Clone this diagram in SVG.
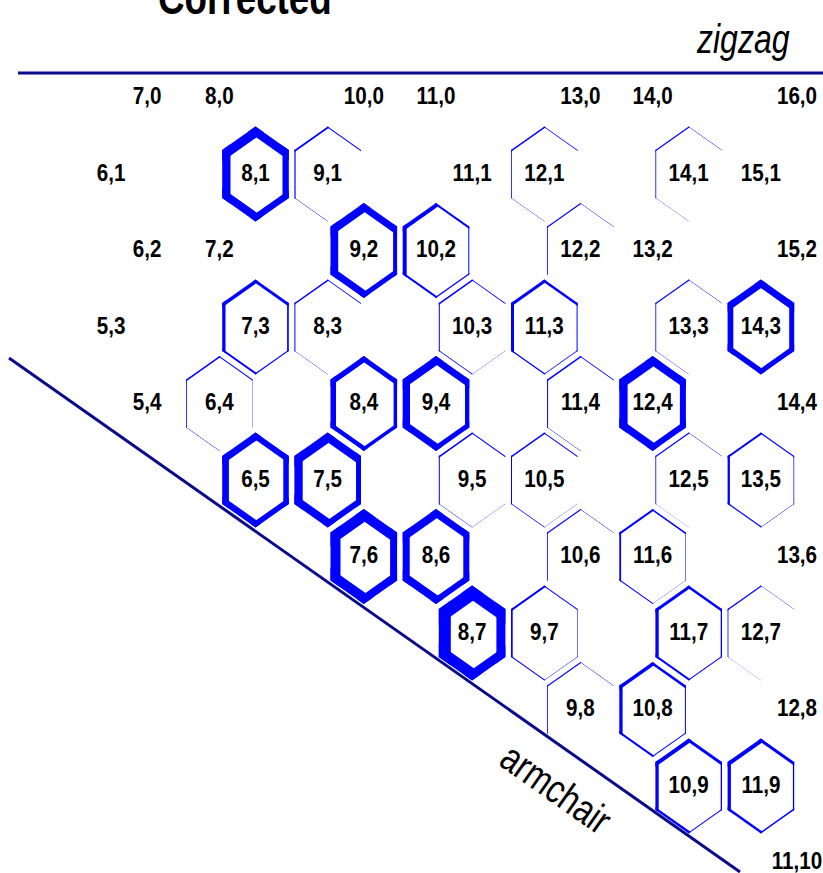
<svg xmlns="http://www.w3.org/2000/svg" width="823" height="873" viewBox="0 0 823 873">
<style>
.lb{font-family:"Liberation Sans",Arial,sans-serif;font-weight:bold;font-size:24px;text-anchor:middle;fill:#000}
.ti{font-family:"Liberation Sans",Arial,sans-serif;font-weight:bold;font-size:46px;fill:#000}
.ax{font-family:"Liberation Sans",Arial,sans-serif;font-size:40px;fill:#000}
.ring{stroke:#0000ff;fill:none}
.axis{stroke:#0a0a8c;stroke-width:3;fill:none}
</style>
<defs>
<clipPath id="hc"><polygon points="0,-47.5 33.3,-24 33.3,24 0,47.5 -33.3,24 -33.3,-24"/></clipPath>
<line id="eTL" x1="-66.6" y1="-0.5" x2="33.3" y2="-71"/>
<line id="eTR" x1="-33.3" y1="-71" x2="66.6" y2="-0.5"/>
<line id="eR" x1="33.3" y1="-80" x2="33.3" y2="80"/>
<line id="eBR" x1="66.6" y1="0.5" x2="-33.3" y2="71"/>
<line id="eBL" x1="33.3" y1="71" x2="-66.6" y2="0.5"/>
<line id="eL" x1="-33.3" y1="-80" x2="-33.3" y2="80"/>
</defs>
<rect width="823" height="873" fill="#fff"/>
<text class="ti" transform="translate(158,14) scale(0.8,1)">Corrected</text>
<text class="ax" font-style="italic" transform="translate(697,53) scale(0.8,1)">zigzag</text>
<text class="ax" text-anchor="middle" transform="translate(555,790) rotate(35.1) scale(0.8,1)" y="12">armchair</text>
<g id="connectors">
<line class="axis" x1="18" y1="73" x2="823" y2="73"/>
<line class="axis" x1="9" y1="358" x2="740" y2="872"/>
</g>
<!-- row 0 -->
<g id="n7-0"><text class="lb" transform="translate(147.2,104) scale(0.86,1)">7,0</text></g>
<g id="n8-0"><text class="lb" transform="translate(219.4,104) scale(0.86,1)">8,0</text></g>
<g id="n10-0"><text class="lb" transform="translate(363.8,104) scale(0.86,1)">10,0</text></g>
<g id="n11-0"><text class="lb" transform="translate(436,104) scale(0.86,1)">11,0</text></g>
<g id="n13-0"><text class="lb" transform="translate(580.4,104) scale(0.86,1)">13,0</text></g>
<g id="n14-0"><text class="lb" transform="translate(652.6,104) scale(0.86,1)">14,0</text></g>
<g id="n16-0"><text class="lb" transform="translate(797,104) scale(0.86,1)">16,0</text></g>
<!-- row 1 -->
<g id="n6-1"><text class="lb" transform="translate(111.1,180.5) scale(0.86,1)">6,1</text></g>
<g id="n8-1" transform="translate(255.5,174)"><g class="ring" clip-path="url(#hc)"><use href="#eTL" stroke-width="19"/><use href="#eTR" stroke-width="17"/><use href="#eR" stroke-width="12.6"/><use href="#eBR" stroke-width="13"/><use href="#eBL" stroke-width="16"/><use href="#eL" stroke-width="16.6"/></g><text class="lb" transform="translate(0,6.5) scale(0.86,1)">8,1</text></g>
<g id="n9-1" transform="translate(327.7,174)"><g class="ring" clip-path="url(#hc)"><use href="#eTL" stroke-width="3.6"/><use href="#eTR" stroke-width="2"/><use href="#eBL" stroke-width="1"/><use href="#eL" stroke-width="2.4"/></g><text class="lb" transform="translate(0,6.5) scale(0.86,1)">9,1</text></g>
<g id="n11-1"><text class="lb" transform="translate(472.1,180.5) scale(0.86,1)">11,1</text></g>
<g id="n12-1" transform="translate(544.3,174)"><g class="ring" clip-path="url(#hc)"><use href="#eTL" stroke-width="3"/><use href="#eTR" stroke-width="1.4"/><use href="#eBL" stroke-width="0.8"/><use href="#eL" stroke-width="1.6"/></g><text class="lb" transform="translate(0,6.5) scale(0.86,1)">12,1</text></g>
<g id="n14-1" transform="translate(688.7,174)"><g class="ring" clip-path="url(#hc)"><use href="#eTL" stroke-width="2.4"/><use href="#eTR" stroke-width="1"/><use href="#eBL" stroke-width="0.6"/><use href="#eL" stroke-width="1.6"/></g><text class="lb" transform="translate(0,6.5) scale(0.86,1)">14,1</text></g>
<g id="n15-1"><text class="lb" transform="translate(760.9,180.5) scale(0.86,1)">15,1</text></g>
<!-- row 2 -->
<g id="n6-2"><text class="lb" transform="translate(147.2,257) scale(0.86,1)">6,2</text></g>
<g id="n7-2"><text class="lb" transform="translate(219.4,257) scale(0.86,1)">7,2</text></g>
<g id="n9-2" transform="translate(363.8,250.5)"><g class="ring" clip-path="url(#hc)"><use href="#eTL" stroke-width="16"/><use href="#eTR" stroke-width="14"/><use href="#eR" stroke-width="8"/><use href="#eBR" stroke-width="10"/><use href="#eBL" stroke-width="14"/><use href="#eL" stroke-width="15.4"/></g><text class="lb" transform="translate(0,6.5) scale(0.86,1)">9,2</text></g>
<g id="n10-2" transform="translate(436,250.5)"><g class="ring" clip-path="url(#hc)"><use href="#eTL" stroke-width="8"/><use href="#eTR" stroke-width="4"/><use href="#eR" stroke-width="2"/><use href="#eBR" stroke-width="2.6"/><use href="#eBL" stroke-width="4"/><use href="#eL" stroke-width="8"/></g><text class="lb" transform="translate(0,6.5) scale(0.86,1)">10,2</text></g>
<g id="n12-2" transform="translate(580.4,250.5)"><g class="ring" clip-path="url(#hc)"><use href="#eTL" stroke-width="2.4"/><use href="#eTR" stroke-width="1"/><use href="#eL" stroke-width="1.6"/></g><text class="lb" transform="translate(0,6.5) scale(0.86,1)">12,2</text></g>
<g id="n13-2"><text class="lb" transform="translate(652.6,257) scale(0.86,1)">13,2</text></g>
<g id="n15-2"><text class="lb" transform="translate(797,257) scale(0.86,1)">15,2</text></g>
<!-- row 3 -->
<g id="n5-3"><text class="lb" transform="translate(111.1,333.5) scale(0.86,1)">5,3</text></g>
<g id="n7-3" transform="translate(255.5,327)"><g class="ring" clip-path="url(#hc)"><use href="#eTL" stroke-width="7"/><use href="#eTR" stroke-width="6"/><use href="#eR" stroke-width="3.4"/><use href="#eBR" stroke-width="2.4"/><use href="#eBL" stroke-width="4"/><use href="#eL" stroke-width="6.6"/></g><text class="lb" transform="translate(0,6.5) scale(0.86,1)">7,3</text></g>
<g id="n8-3" transform="translate(327.7,327)"><g class="ring" clip-path="url(#hc)"><use href="#eTL" stroke-width="3"/><use href="#eTR" stroke-width="1.6"/><use href="#eBL" stroke-width="0.8"/><use href="#eL" stroke-width="2"/></g><text class="lb" transform="translate(0,6.5) scale(0.86,1)">8,3</text></g>
<g id="n10-3" transform="translate(472.1,327)"><g class="ring" clip-path="url(#hc)"><use href="#eTL" stroke-width="3"/><use href="#eTR" stroke-width="1.6"/><use href="#eBR" stroke-width="0.6"/><use href="#eBL" stroke-width="1.6"/><use href="#eL" stroke-width="2"/></g><text class="lb" transform="translate(0,6.5) scale(0.86,1)">10,3</text></g>
<g id="n11-3" transform="translate(544.3,327)"><g class="ring" clip-path="url(#hc)"><use href="#eTL" stroke-width="6"/><use href="#eTR" stroke-width="5"/><use href="#eR" stroke-width="2"/><use href="#eBR" stroke-width="1.4"/><use href="#eBL" stroke-width="2.6"/><use href="#eL" stroke-width="6"/></g><text class="lb" transform="translate(0,6.5) scale(0.86,1)">11,3</text></g>
<g id="n13-3" transform="translate(688.7,327)"><g class="ring" clip-path="url(#hc)"><use href="#eTL" stroke-width="2.4"/><use href="#eTR" stroke-width="1"/><use href="#eBL" stroke-width="0.8"/><use href="#eL" stroke-width="1.6"/></g><text class="lb" transform="translate(0,6.5) scale(0.86,1)">13,3</text></g>
<g id="n14-3" transform="translate(760.9,327)"><g class="ring" clip-path="url(#hc)"><use href="#eTL" stroke-width="14"/><use href="#eTR" stroke-width="14"/><use href="#eR" stroke-width="10"/><use href="#eBR" stroke-width="10"/><use href="#eBL" stroke-width="11"/><use href="#eL" stroke-width="11.4"/></g><text class="lb" transform="translate(0,6.5) scale(0.86,1)">14,3</text></g>
<!-- row 4 -->
<g id="n5-4"><text class="lb" transform="translate(147.2,410) scale(0.86,1)">5,4</text></g>
<g id="n6-4" transform="translate(219.4,403.5)"><g class="ring" clip-path="url(#hc)"><use href="#eTL" stroke-width="3"/><use href="#eTR" stroke-width="2"/><use href="#eR" stroke-width="0.6"/><use href="#eBL" stroke-width="1"/><use href="#eL" stroke-width="1.6"/></g><text class="lb" transform="translate(0,6.5) scale(0.86,1)">6,4</text></g>
<g id="n8-4" transform="translate(363.8,403.5)"><g class="ring" clip-path="url(#hc)"><use href="#eTL" stroke-width="11"/><use href="#eTR" stroke-width="10"/><use href="#eR" stroke-width="7"/><use href="#eBR" stroke-width="7"/><use href="#eBL" stroke-width="9"/><use href="#eL" stroke-width="11"/></g><text class="lb" transform="translate(0,6.5) scale(0.86,1)">8,4</text></g>
<g id="n9-4" transform="translate(436,403.5)"><g class="ring" clip-path="url(#hc)"><use href="#eTL" stroke-width="16"/><use href="#eTR" stroke-width="14"/><use href="#eR" stroke-width="8.6"/><use href="#eBR" stroke-width="10"/><use href="#eBL" stroke-width="14"/><use href="#eL" stroke-width="14.6"/></g><text class="lb" transform="translate(0,6.5) scale(0.86,1)">9,4</text></g>
<g id="n11-4" transform="translate(580.4,403.5)"><g class="ring" clip-path="url(#hc)"><use href="#eTL" stroke-width="3"/><use href="#eTR" stroke-width="1.6"/><use href="#eBL" stroke-width="1"/><use href="#eL" stroke-width="2"/></g><text class="lb" transform="translate(0,6.5) scale(0.86,1)">11,4</text></g>
<g id="n12-4" transform="translate(652.6,403.5)"><g class="ring" clip-path="url(#hc)"><use href="#eTL" stroke-width="18"/><use href="#eTR" stroke-width="16"/><use href="#eR" stroke-width="12"/><use href="#eBR" stroke-width="12"/><use href="#eBL" stroke-width="15"/><use href="#eL" stroke-width="16.6"/></g><text class="lb" transform="translate(0,6.5) scale(0.86,1)">12,4</text></g>
<g id="n14-4"><text class="lb" transform="translate(797,410) scale(0.86,1)">14,4</text></g>
<!-- row 5 -->
<g id="n6-5" transform="translate(255.5,480)"><g class="ring" clip-path="url(#hc)"><use href="#eTL" stroke-width="14"/><use href="#eTR" stroke-width="12"/><use href="#eR" stroke-width="11"/><use href="#eBR" stroke-width="11"/><use href="#eBL" stroke-width="13"/><use href="#eL" stroke-width="13.4"/></g><text class="lb" transform="translate(0,6.5) scale(0.86,1)">6,5</text></g>
<g id="n7-5" transform="translate(327.7,480)"><g class="ring" clip-path="url(#hc)"><use href="#eTL" stroke-width="18"/><use href="#eTR" stroke-width="16"/><use href="#eR" stroke-width="10"/><use href="#eBR" stroke-width="12"/><use href="#eBL" stroke-width="16"/><use href="#eL" stroke-width="16.6"/></g><text class="lb" transform="translate(0,6.5) scale(0.86,1)">7,5</text></g>
<g id="n9-5" transform="translate(472.1,480)"><g class="ring" clip-path="url(#hc)"><use href="#eTL" stroke-width="3"/><use href="#eTR" stroke-width="2"/><use href="#eBR" stroke-width="0.6"/><use href="#eBL" stroke-width="1"/><use href="#eL" stroke-width="2"/></g><text class="lb" transform="translate(0,6.5) scale(0.86,1)">9,5</text></g>
<g id="n10-5" transform="translate(544.3,480)"><g class="ring" clip-path="url(#hc)"><use href="#eTL" stroke-width="3"/><use href="#eTR" stroke-width="2"/><use href="#eBR" stroke-width="0.6"/><use href="#eBL" stroke-width="1.4"/><use href="#eL" stroke-width="2"/></g><text class="lb" transform="translate(0,6.5) scale(0.86,1)">10,5</text></g>
<g id="n12-5" transform="translate(688.7,480)"><g class="ring" clip-path="url(#hc)"><use href="#eTL" stroke-width="2.4"/><use href="#eTR" stroke-width="1"/><use href="#eBL" stroke-width="0.4"/><use href="#eL" stroke-width="1.6"/></g><text class="lb" transform="translate(0,6.5) scale(0.86,1)">12,5</text></g>
<g id="n13-5" transform="translate(760.9,480)"><g class="ring" clip-path="url(#hc)"><use href="#eTL" stroke-width="4"/><use href="#eTR" stroke-width="2.4"/><use href="#eR" stroke-width="1.4"/><use href="#eBR" stroke-width="1"/><use href="#eBL" stroke-width="2.4"/><use href="#eL" stroke-width="4.6"/></g><text class="lb" transform="translate(0,6.5) scale(0.86,1)">13,5</text></g>
<!-- row 6 -->
<g id="n7-6" transform="translate(363.8,556.5)"><g class="ring" clip-path="url(#hc)"><use href="#eTL" stroke-width="22"/><use href="#eTR" stroke-width="20"/><use href="#eR" stroke-width="14"/><use href="#eBR" stroke-width="16"/><use href="#eBL" stroke-width="20"/><use href="#eL" stroke-width="20"/></g><text class="lb" transform="translate(0,6.5) scale(0.86,1)">7,6</text></g>
<g id="n8-6" transform="translate(436,556.5)"><g class="ring" clip-path="url(#hc)"><use href="#eTL" stroke-width="16"/><use href="#eTR" stroke-width="14"/><use href="#eR" stroke-width="12"/><use href="#eBR" stroke-width="12"/><use href="#eBL" stroke-width="16"/><use href="#eL" stroke-width="14"/></g><text class="lb" transform="translate(0,6.5) scale(0.86,1)">8,6</text></g>
<g id="n10-6" transform="translate(580.4,556.5)"><g class="ring" clip-path="url(#hc)"><use href="#eTL" stroke-width="2.4"/><use href="#eTR" stroke-width="1"/><use href="#eL" stroke-width="1.6"/></g><text class="lb" transform="translate(0,6.5) scale(0.86,1)">10,6</text></g>
<g id="n11-6" transform="translate(652.6,556.5)"><g class="ring" clip-path="url(#hc)"><use href="#eTL" stroke-width="4"/><use href="#eTR" stroke-width="3"/><use href="#eR" stroke-width="1"/><use href="#eBR" stroke-width="0.6"/><use href="#eBL" stroke-width="2"/><use href="#eL" stroke-width="3.6"/></g><text class="lb" transform="translate(0,6.5) scale(0.86,1)">11,6</text></g>
<g id="n13-6"><text class="lb" transform="translate(797,563) scale(0.86,1)">13,6</text></g>
<!-- row 7 -->
<g id="n8-7" transform="translate(472.1,633)"><g class="ring" clip-path="url(#hc)"><use href="#eTL" stroke-width="26"/><use href="#eTR" stroke-width="24"/><use href="#eR" stroke-width="18"/><use href="#eBR" stroke-width="18"/><use href="#eBL" stroke-width="22"/><use href="#eL" stroke-width="24"/></g><text class="lb" transform="translate(0,6.5) scale(0.86,1)">8,7</text></g>
<g id="n9-7" transform="translate(544.3,633)"><g class="ring" clip-path="url(#hc)"><use href="#eTL" stroke-width="4"/><use href="#eTR" stroke-width="2"/><use href="#eR" stroke-width="1"/><use href="#eBR" stroke-width="1"/><use href="#eBL" stroke-width="2"/><use href="#eL" stroke-width="3.4"/></g><text class="lb" transform="translate(0,6.5) scale(0.86,1)">9,7</text></g>
<g id="n11-7" transform="translate(688.7,633)"><g class="ring" clip-path="url(#hc)"><use href="#eTL" stroke-width="6"/><use href="#eTR" stroke-width="5"/><use href="#eR" stroke-width="2.6"/><use href="#eBR" stroke-width="2"/><use href="#eBL" stroke-width="4"/><use href="#eL" stroke-width="6.6"/></g><text class="lb" transform="translate(0,6.5) scale(0.86,1)">11,7</text></g>
<g id="n12-7" transform="translate(760.9,633)"><g class="ring" clip-path="url(#hc)"><use href="#eTL" stroke-width="2.4"/><use href="#eTR" stroke-width="0.8"/><use href="#eBL" stroke-width="0.4"/><use href="#eL" stroke-width="1.6"/></g><text class="lb" transform="translate(0,6.5) scale(0.86,1)">12,7</text></g>
<!-- row 8 -->
<g id="n9-8" transform="translate(580.4,709.5)"><g class="ring" clip-path="url(#hc)"><use href="#eTL" stroke-width="2.4"/><use href="#eTR" stroke-width="1"/><use href="#eL" stroke-width="1.6"/></g><text class="lb" transform="translate(0,6.5) scale(0.86,1)">9,8</text></g>
<g id="n10-8" transform="translate(652.6,709.5)"><g class="ring" clip-path="url(#hc)"><use href="#eTL" stroke-width="7"/><use href="#eTR" stroke-width="5"/><use href="#eR" stroke-width="2"/><use href="#eBR" stroke-width="2"/><use href="#eBL" stroke-width="4"/><use href="#eL" stroke-width="6.6"/></g><text class="lb" transform="translate(0,6.5) scale(0.86,1)">10,8</text></g>
<g id="n12-8"><text class="lb" transform="translate(797,716) scale(0.86,1)">12,8</text></g>
<!-- row 9 -->
<g id="n10-9" transform="translate(688.7,786)"><g class="ring" clip-path="url(#hc)"><use href="#eTL" stroke-width="8"/><use href="#eTR" stroke-width="6"/><use href="#eR" stroke-width="2.6"/><use href="#eBR" stroke-width="2"/><use href="#eBL" stroke-width="5"/><use href="#eL" stroke-width="6.6"/></g><text class="lb" transform="translate(0,6.5) scale(0.86,1)">10,9</text></g>
<g id="n11-9" transform="translate(760.9,786)"><g class="ring" clip-path="url(#hc)"><use href="#eTL" stroke-width="8"/><use href="#eTR" stroke-width="6"/><use href="#eR" stroke-width="2.6"/><use href="#eBR" stroke-width="3"/><use href="#eBL" stroke-width="5"/><use href="#eL" stroke-width="6.6"/></g><text class="lb" transform="translate(0,6.5) scale(0.86,1)">11,9</text></g>
<!-- row 10 -->
<g id="n11-10"><text class="lb" transform="translate(797,868.5) scale(0.86,1)">11,10</text></g>
</svg>
